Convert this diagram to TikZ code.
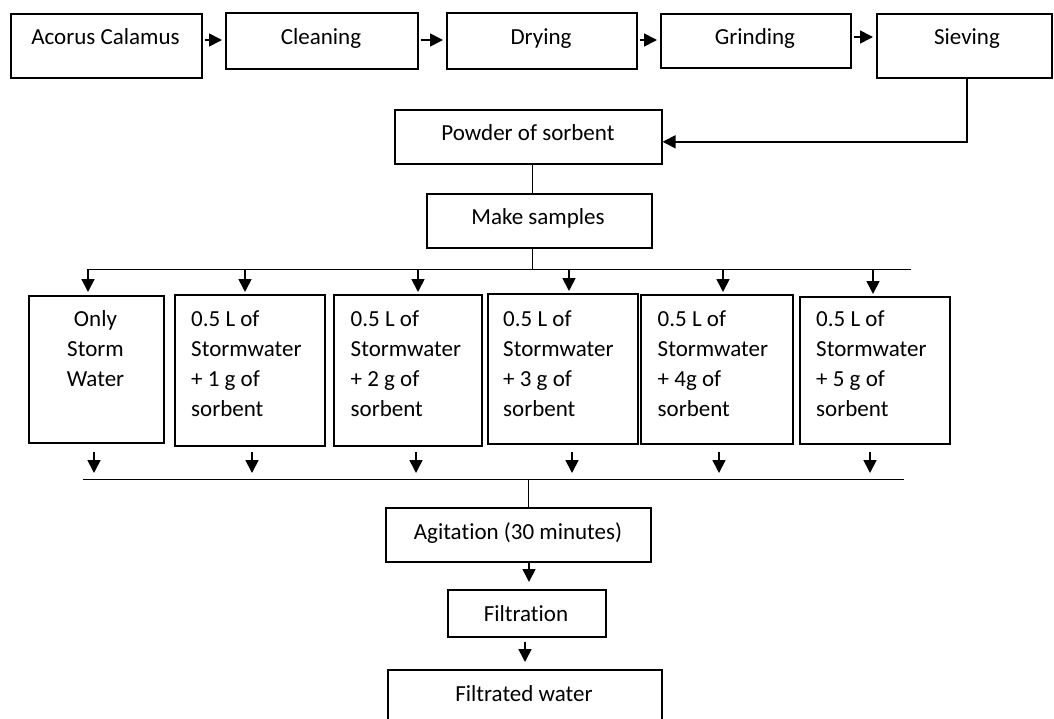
\documentclass[tikz,border=0pt]{standalone}
\usepackage{fontspec}
\setmainfont{Carlito}[RawFeature={-liga}]
\usetikzlibrary{arrows.meta}
\begin{document}
\begin{tikzpicture}[x=1pt,y=-1pt,
  box/.style={draw, line width=1.6pt, rectangle, anchor=north west, inner sep=0pt},
  txt/.style={font=\fontsize{23}{30}\selectfont, inner sep=0pt, anchor=base},
  mtxt/.style={font=\fontsize{23}{30}\selectfont, inner sep=0pt, anchor=north west, align=left},
  ctxt/.style={font=\fontsize{23}{30}\selectfont, inner sep=0pt, anchor=north, align=center},
  arr/.style={line width=1.7pt, -{Triangle[length=13pt,width=13pt]}},
  thinl/.style={line width=0.9pt}]
\clip (0,0) rectangle (1054,718);
% top row
\node[box, minimum width=191pt, minimum height=64pt] (acorus) at (10,13) {};
\node[txt] (acorusT) at (105.5,44) {Acorus Calamus};
\node[box, minimum width=192pt, minimum height=56pt] (cleaning) at (225,12) {};
\node[txt] (cleaningT) at (321,44) {Cleaning};
\node[box, minimum width=190pt, minimum height=56pt] (drying) at (446,12) {};
\node[txt] (dryingT) at (541,44) {Drying};
\node[box, minimum width=190pt, minimum height=54pt] (grinding) at (660,13) {};
\node[txt] (grindingT) at (755,44) {Grinding};
\node[box, minimum width=175pt, minimum height=64pt] (sieving) at (876,13) {};
\node[txt] (sievingT) at (967,44) {Sieving};
\coordinate (r1) at (0,40);
\draw[arr, shorten <=2pt, shorten >=3pt] (acorus.east |- r1) -- (cleaning.west |- r1);
\draw[arr, shorten <=2pt, shorten >=3pt] (cleaning.east |- r1) -- (drying.west |- r1);
\draw[arr, shorten <=2pt, shorten >=3pt] (drying.east |- r1) -- (grinding.west |- r1);
\coordinate (r2) at (0,37);
\draw[arr, shorten <=2pt, shorten >=3pt] (grinding.east |- r2) -- (sieving.west |- r2);
% powder
\node[box, minimum width=267pt, minimum height=54pt] (powder) at (394,109) {};
\node[txt] (powderT) at (528,140) {Powder of sorbent};
\coordinate (sx) at (967,0);
\draw[arr] (sieving.south -| sx) |- ([yshift=-5pt]powder.east);
% make samples
\node[box, minimum width=225pt, minimum height=54pt] (make) at (426,193) {};
\node[txt] (makeT) at (538,224) {Make samples};
\coordinate (bx) at (532,0);
\draw[thinl] (powder.south -| bx) -- (make.north -| bx);
\coordinate (busAL) at (88,269);
\coordinate (busAR) at (911,269);
\draw[thinl] (busAL) -- (busAR);
\draw[thinl] (make.south -| bx) -- (bx |- busAL);
% samples
\node[box, minimum width=135pt, minimum height=147pt] (s1) at (28,295) {};
\node[box, minimum width=150pt, minimum height=151pt] (s2) at (174,294) {};
\node[box, minimum width=148pt, minimum height=151pt] (s3) at (333,294) {};
\node[box, minimum width=150pt, minimum height=150pt] (s4) at (487,293) {};
\node[box, minimum width=152pt, minimum height=149pt] (s5) at (640,294) {};
\node[box, minimum width=150pt, minimum height=147pt] (s6) at (799,296) {};
\node[ctxt] (s1T) at (95.5,305) {\strut Only\\Storm\\Water};
\node[mtxt] (s2T) at (191,305) {\strut 0.5 L of\\Stormwater\\+ 1 g of\\sorbent};
\node[mtxt] (s3T) at (350.5,305) {\strut 0.5 L of\\Stormwater\\+ 2 g of\\sorbent};
\node[mtxt] (s4T) at (503,305) {\strut 0.5 L of\\Stormwater\\+ 3 g of\\sorbent};
\node[mtxt] (s5T) at (657.5,305) {\strut 0.5 L of\\Stormwater\\+ 4g of\\sorbent};
\node[mtxt] (s6T) at (816,305) {\strut 0.5 L of\\Stormwater\\+ 5 g of\\sorbent};
% arrows from top bus
\coordinate (a1) at (88,292);
\coordinate (a2) at (245,292);
\coordinate (a3) at (418,292);
\coordinate (a4) at (569,291);
\coordinate (a5) at (723,292);
\coordinate (a6) at (873,294);
\foreach \i in {1,...,6}{\draw[arr] (a\i |- busAL) -- (a\i);}
% lower arrows
\coordinate (le) at (0,473);
\coordinate (b1) at (94,452);
\coordinate (b2) at (252,452);
\coordinate (b3) at (416,452);
\coordinate (b4) at (572,452);
\coordinate (b5) at (719,452);
\coordinate (b6) at (870,452);
\foreach \i in {1,...,6}{\draw[arr] (b\i) -- (b\i |- le);}
\coordinate (busBL) at (83,479);
\coordinate (busBR) at (904,479);
\draw[thinl] (busBL) -- (busBR);
% agitation
\node[box, minimum width=265pt, minimum height=54pt] (agit) at (385,507) {};
\node[txt] (agitT) at (518,539) {Agitation (30 minutes)};
\coordinate (cx) at (528,0);
\draw[thinl] (cx |- busBL) -- (agit.north -| cx);
\node[box, minimum width=158pt, minimum height=47pt] (filt) at (447,589) {};
\node[txt] (filtT) at (526,621) {Filtration};
\coordinate (dx) at (529,0);
\draw[arr, shorten >=7pt] (agit.south -| dx) -- (filt.north -| dx);
\node[box, minimum width=274pt, minimum height=60pt] (filtw) at (387,669) {};
\node[txt] (filtwT) at (524,701) {Filtrated water};
\coordinate (ex) at (525,0);
\draw[arr, shorten <=4pt, shorten >=7pt] (filt.south -| ex) -- (filtw.north -| ex);
\end{tikzpicture}
\end{document}
